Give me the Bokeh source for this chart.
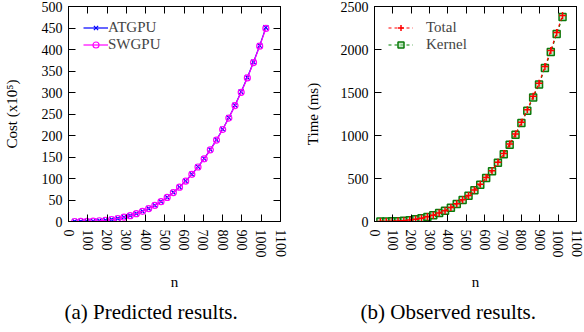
import math
from bokeh.plotting import figure
from bokeh.layouts import row
from bokeh.models import Range1d, LinearAxis, Legend, LegendItem, Title, FixedTicker
from bokeh.embed import file_html
from bokeh.resources import INLINE

# ---- data ----
n_values = [32, 64, 96, 128, 160, 192, 224, 256, 288, 320, 352, 384, 416, 448, 480, 512,
            544, 576, 608, 640, 672, 704, 736, 768, 800, 832, 864, 896, 928, 960, 992, 1024]

cost_atgpu = [0.01, 0.11, 0.37, 0.88, 1.7, 3.0, 4.7, 7.0, 10.0, 13.7, 18.3, 23.7, 30.2, 37.7,
              46.4, 56.3, 67.5, 80.1, 94.2, 109.9, 127.2, 146.3, 167.1, 189.9, 214.6, 241.4,
              270.4, 301.5, 335.0, 370.8, 409.1, 451.0]
cost_swgpu = [0.01, 0.11, 0.37, 0.87, 1.7, 2.9, 4.7, 7.0, 10.0, 13.6, 18.2, 23.6, 30.1, 37.6,
              46.2, 56.1, 67.3, 79.9, 93.9, 109.6, 126.8, 145.8, 166.6, 189.3, 213.9, 240.6,
              269.5, 300.5, 333.9, 369.6, 407.8, 449.0]

time_total = [1, 1, 2, 5, 9, 16, 26, 38, 54, 74, 100, 126, 163, 205, 252, 301,
              365, 432, 512, 589, 690, 790, 900, 1017, 1155, 1299, 1456, 1607, 1801, 1987, 2198, 2396]
time_kernel = [1, 1, 2, 4, 9, 15, 25, 37, 53, 73, 99, 124, 161, 203, 249, 298,
               362, 428, 507, 584, 684, 783, 893, 1008, 1145, 1288, 1443, 1594, 1786, 1970, 2180, 2378]

x_ticks = [0, 100, 200, 300, 400, 500, 600, 700, 800, 900, 1000, 1100]
cost_ticks = [0, 50, 100, 150, 200, 250, 300, 350, 400, 450, 500]
time_ticks = [0, 500, 1000, 1500, 2000, 2500]

FONT = "Liberation Serif"


def style_axis(ax, ticks, show_labels=True):
    ax.ticker = FixedTicker(ticks=ticks)
    ax.major_tick_in = 7
    ax.major_tick_out = 0
    ax.minor_tick_line_color = None
    ax.axis_line_color = "black"
    ax.major_tick_line_color = "black"
    ax.major_label_text_font = FONT
    ax.major_label_text_font_size = "14px"
    ax.major_label_text_color = "black"
    ax.axis_label_text_font = FONT
    ax.axis_label_text_font_size = "15px"
    ax.axis_label_text_font_style = "normal"
    ax.axis_label_text_color = "black"
    if not show_labels:
        ax.major_label_text_color = None
        ax.major_label_standoff = 0


def make_fig(width, yr, yticks, ylabel, caption, left_border, right_border, cap_offset, ylab_standoff):
    p = figure(width=width, height=332, x_range=Range1d(0, 1100), y_range=yr,
               output_backend="svg", toolbar_location=None,
               min_border_left=left_border, min_border_right=right_border,
               min_border_top=6, min_border_bottom=111)
    p.xgrid.visible = False
    p.ygrid.visible = False
    p.outline_line_color = "black"
    p.outline_line_width = 1
    p.background_fill_color = "white"
    p.border_fill_color = "white"
    style_axis(p.xaxis[0], x_ticks)
    style_axis(p.yaxis[0], yticks)
    p.xaxis[0].axis_label = "n"
    p.xaxis[0].major_label_orientation = -math.pi / 2
    p.xaxis[0].major_label_standoff = 8
    p.xaxis[0].axis_label_standoff = 13
    p.yaxis[0].axis_label = ylabel
    p.yaxis[0].major_label_standoff = 6
    p.yaxis[0].axis_label_standoff = ylab_standoff
    top = LinearAxis()
    style_axis(top, x_ticks, show_labels=False)
    p.add_layout(top, "above")
    right = LinearAxis()
    style_axis(right, yticks, show_labels=False)
    p.add_layout(right, "right")
    t = Title(text=caption, align="left", offset=cap_offset, text_font=FONT,
              text_font_size="21px", text_font_style="normal", text_color="black")
    p.add_layout(t, "below")
    return p


# ---- (a) predicted ----
pa = make_fig(292, Range1d(0, 500), cost_ticks, "Cost (x10\u2075)", "(a) Predicted results.",
              65, 12, -4, 19)
la = pa.line(n_values, cost_atgpu, line_color="#0000ff", line_width=1.2)
sa = pa.scatter(n_values, cost_atgpu, marker="x", size=7, line_color="#0000ff", line_width=1.2)
lb = pa.line(n_values, cost_swgpu, line_color="#ff00ff", line_width=1.2)
sb = pa.scatter(n_values, cost_swgpu, marker="circle", size=6, line_color="#ff00ff",
                fill_color=None, line_width=1.2)
leg_a = Legend(items=[LegendItem(label="ATGPU", renderers=[la, sa]),
                      LegendItem(label="SWGPU", renderers=[lb, sb])],
               location=(15, 168), border_line_color=None, background_fill_alpha=0,
               label_text_font=FONT, label_text_font_size="15px", glyph_width=25,
               glyph_height=15, label_height=15, spacing=0, margin=0, padding=0,
               label_standoff=0)
pa.add_layout(leg_a)

# ---- (b) observed ----
pb = make_fig(292, Range1d(0, 2500), time_ticks, "Time (ms)", "(b) Observed results.",
              82, 8, -14, 17)
kl = pb.line(n_values, time_kernel, line_color="#008000", line_width=1.2, line_dash="3 3")
ks = pb.scatter(n_values, time_kernel, marker="square", size=7, line_color="#0a7a0a",
                fill_color="#a0d8a0", fill_alpha=0.6, line_width=1.5)
tl = pb.line(n_values, time_total, line_color="#ff0000", line_width=1.2, line_dash="3 3")
ts = pb.scatter(n_values, time_total, marker="cross", size=7, line_color="#ff0000", line_width=1.5)
leg_b = Legend(items=[LegendItem(label="Total", renderers=[tl, ts]),
                      LegendItem(label="Kernel", renderers=[kl, ks])],
               location=(14, 168), border_line_color=None, background_fill_alpha=0,
               label_text_font=FONT, label_text_font_size="15px", glyph_width=25,
               glyph_height=15, label_height=15, spacing=0, margin=0, padding=0,
               label_standoff=13)
pb.add_layout(leg_b)

layout = row(pa, pb)
open("out.html", "w").write(file_html(layout, INLINE))
